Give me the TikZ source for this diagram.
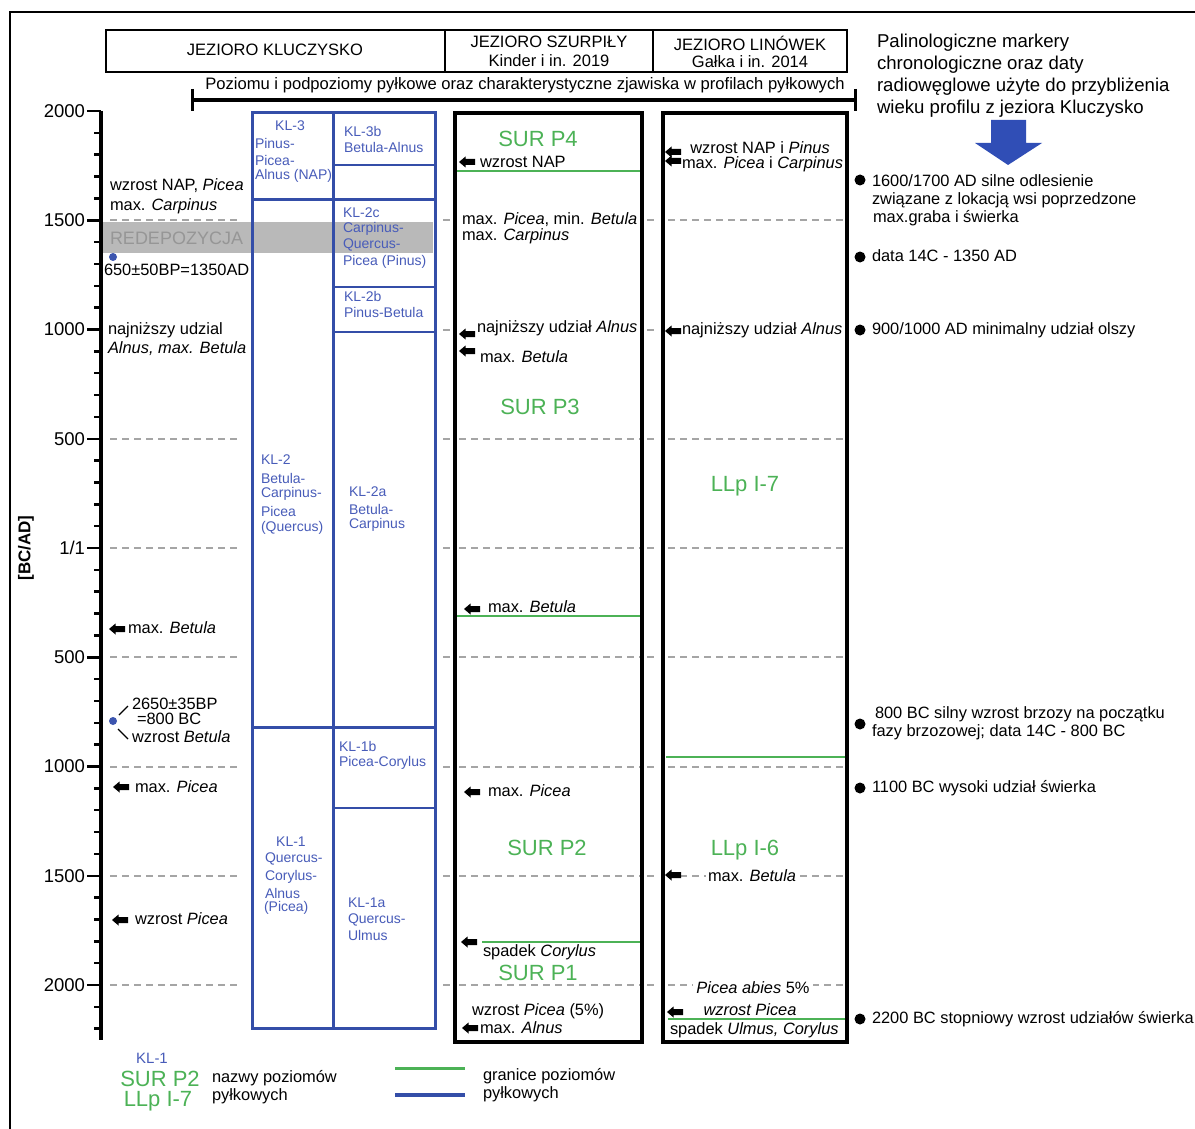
\documentclass[tikz,border=0pt]{standalone}
\usepackage{fontspec}
\setmainfont{Liberation Sans}
\usetikzlibrary{calc}
\definecolor{klblue}{RGB}{52,78,168}
\definecolor{kltext}{RGB}{72,92,185}
\definecolor{grn}{RGB}{76,178,86}
\definecolor{dgray}{RGB}{165,165,165}
\definecolor{bgray}{RGB}{185,185,185}
\definecolor{rgray}{RGB}{150,150,150}
\definecolor{arrblue}{RGB}{48,78,182}
\definecolor{dotblue}{RGB}{60,85,175}
\newcommand\fHdr{\fontsize{16.5}{19}\selectfont}
\newcommand\fSub{\fontsize{16.6}{19}\selectfont}
\newcommand\fRh{\fontsize{18.6}{22}\selectfont}
\newcommand\fAx{\fontsize{18.5}{22}\selectfont}
\newcommand\fAnn{\fontsize{16.4}{19}\selectfont}
\newcommand\fKl{\fontsize{14}{16}\selectfont}
\newcommand\fGrn{\fontsize{22}{26}\selectfont}
\begin{document}
\begin{tikzpicture}[x=1pt,y=-1pt,
  every node/.style={inner sep=0pt, outer sep=0pt},
  hdr/.style={font=\fHdr},
  ann/.style={font=\fAnn, anchor=west},
  kl/.style={font=\fKl, text=kltext, anchor=west},
  klc/.style={font=\fKl, text=kltext},
  grnlab/.style={font=\fGrn, text=grn},
  axlab/.style={font=\fAx, anchor=east},
  dsh/.style={draw=dgray, line width=2pt, dash pattern=on 7pt off 5pt},
  colbox/.style={draw=black, line width=3.5pt},
  klthick/.style={draw=klblue, line width=3pt},
  klthin/.style={draw=klblue, line width=1.3pt},
  grnline/.style={draw=grn, line width=2.5pt},
  bdot/.style={circle, fill=dotblue, minimum size=8pt},
  kdot/.style={circle, fill=black, minimum size=11pt},
  larr/.pic={\fill[black] (0,0) -- (6.5,-5.5) -- (6.5,-3) -- (16,-3) -- (16,3) -- (6.5,3) -- (6.5,5.5) -- cycle;},
]
\useasboundingbox (0,0) rectangle (1195,1129);
\fill[white] (0,0) rectangle (1195,1129);
% outer frame
\draw[line width=1.8pt] (1200,12) -- (10,12) -- (10,1140);
% header boxes
\draw[line width=1.8pt] (106,30) rectangle (847,72);
\draw[line width=1.8pt] (445,30) -- (445,72);
\draw[line width=1.8pt] (653,30) -- (653,72);
\node[hdr] (h1) at (275,50) {JEZIORO KLUCZYSKO};
\node[hdr] (h2) at (549,42) {JEZIORO SZURPIŁY};
\node[hdr] (h2b) at (549,61) {Kinder i in. 2019};
\node[hdr] (h3) at (750,43) {JEZIORO LINÓWEK};
\node[hdr] (h3b) at (750,62) {Gałka i in. 2014};
\node[font=\fSub] (sub) at (525,85) {Poziomu i podpoziomy pyłkowe oraz charakterystyczne zjawiska w profilach pyłkowych};
\draw[line width=4.5pt] (192,100) -- (855,100);
\draw[line width=3pt] (192,89) -- (192,111);
\draw[line width=3pt] (855,89) -- (855,111);
% right header
\node[font=\fRh, anchor=west] (r1) at (877,43) {Palinologiczne markery};
\node[font=\fRh, anchor=west] (r2) at (877,65) {chronologiczne oraz daty};
\node[font=\fRh, anchor=west] (r3) at (877,87) {radiowęglowe użyte do przybliżenia};
\node[font=\fRh, anchor=west] (r4) at (877,109) {wieku profilu z jeziora Kluczysko};
\fill[arrblue] (991,120) -- (1026,120) -- (1026,143) -- (1042,143) -- (1008,165) -- (975,143) -- (991,143) -- cycle;
% dashed lines
\foreach \k in {5,15,20,25,30,35,40} {\draw[dsh] (110,111+21.85*\k) -- (241,111+21.85*\k);}
\foreach \k in {5,10,...,40} {\draw[dsh] (443,111+21.85*\k) -- (451,111+21.85*\k);
  \draw[dsh] (647,111+21.85*\k) -- (659,111+21.85*\k);}
\foreach \k in {15,20,...,40} {\draw[dsh] (459,111+21.85*\k) -- (640,111+21.85*\k);}
\foreach \k in {5,15,20,25,30,35,40} {\draw[dsh] (668,111+21.85*\k) -- (845,111+21.85*\k);}
% axis
\draw[line width=3.5pt] (101,111) -- (101,1040);
\foreach \k in {0,...,42} {\draw[line width=2.5pt] (94,111+21.85*\k) -- (101,111+21.85*\k);}
\foreach \k/\lab in {0/2000,5/1500,10/1000,15/500,20/1\slash 1,25/500,30/1000,35/1500,40/2000} {
  \draw[line width=2.5pt] (87,111+21.85*\k) -- (101,111+21.85*\k);
  \node[axlab] (ax\k) at (85,111+21.85*\k) {\lab};}
\node[rotate=90, font=\bfseries\fontsize{17}{20}\selectfont] (bcad) at (26,548) {[BC/AD]};
% grey band
\fill[bgray] (103,222) rectangle (433,253);
\node[ann, text=rgray, font=\fontsize{18}{21}\selectfont] (red) at (110,238) {REDEPOZYCJA};
% left annotations
\node[ann] (a1) at (110,186) {wzrost NAP, \textit{Picea}};
\node[ann] (a2) at (110,206) {max. \textit{Carpinus}};
\node[bdot] (d1) at (113,257) {};
\node[ann] (a3) at (104,270) {650±50BP=1350AD};
\node[ann] (a4) at (108,330) {najniższy udzial};
\node[ann] (a5) at (108,349) {\textit{Alnus, max. Betula}};
\pic at (109,629) {larr};
\node[ann] (a6) at (128,628) {max. \textit{Betula}};
\node[bdot] (d2) at (113,721) {};
\draw[line width=1.4pt] ($(d2)+(6,-6)$) -- ($(d2)+(15,-15)$);
\draw[line width=1.4pt] ($(d2)+(5,8)$) -- ($(d2)+(15,18)$);
\node[ann] (a7) at (132,704) {2650±35BP};
\node[ann] (a8) at (137,719) {=800 BC};
\node[ann] (a9) at (132,737) {wzrost \textit{Betula}};
\pic at (113,787) {larr};
\node[ann] (a10) at (135,787) {max. \textit{Picea}};
\pic at (112,920) {larr};
\node[ann] (a11) at (135,919) {wzrost \textit{Picea}};
% KL column
\draw[klthick] (252,113) rectangle (435,1028);
\draw[klthick] (333,113) -- (333,1028);
\draw[klthick] (252,200) -- (435,200);
\draw[klthick] (252,727) -- (435,727);
\draw[klthin] (333,165) -- (435,165);
\draw[klthin] (333,287) -- (435,287);
\draw[klthin] (333,332) -- (435,332);
\draw[klthin] (333,808) -- (435,808);
\node[klc] (k3) at (290,126) {KL-3};
\node[kl] (k3a) at (255,143) {Pinus-};
\node[kl] (k3b) at (255,160) {Picea-};
\node[kl] (k3c) at (255,176) {Alnus (NAP)};
\node[kl] (k3b1) at (344,131) {KL-3b};
\node[kl] (k3b2) at (344,147) {Betula-Alnus};
\node[kl] (k2c1) at (343,213) {KL-2c};
\node[kl] (k2c2) at (343,229) {Carpinus-};
\node[kl] (k2c3) at (343,245) {Quercus-};
\node[kl] (k2c4) at (343,262) {Picea (Pinus)};
\node[kl] (k2b1) at (344,296) {KL-2b};
\node[kl] (k2b2) at (344,312) {Pinus-Betula};
\node[kl] (k2) at (261,460) {KL-2};
\node[kl] (k2x) at (261,478) {Betula-};
\node[kl] (k2y) at (261,494) {Carpinus-};
\node[kl] (k2z) at (261,511) {Picea};
\node[kl] (k2w) at (261,528) {(Quercus)};
\node[kl] (k2a1) at (349,492) {KL-2a};
\node[kl] (k2a2) at (349,509) {Betula-};
\node[kl] (k2a3) at (349,525) {Carpinus};
\node[kl] (k1b1) at (339,746) {KL-1b};
\node[kl] (k1b2) at (339,763) {Picea-Corylus};
\node[klc] (k1) at (291,842) {KL-1};
\node[kl] (k1x) at (265,859) {Quercus-};
\node[kl] (k1y) at (265,877) {Corylus-};
\node[kl] (k1z) at (265,893) {Alnus};
\node[kl] (k1w) at (264,908) {(Picea)};
\node[kl] (k1a1) at (348,903) {KL-1a};
\node[kl] (k1a2) at (348,920) {Quercus-};
\node[kl] (k1a3) at (348,935) {Ulmus};
% SUR column
\draw[colbox] (455,113) rectangle (642,1042);
\node[grnlab] (s4) at (538,139) {SUR P4};
\pic at (459,162) {larr};
\node[ann] (s4a) at (480,162) {wzrost NAP};
\draw[grnline] (457,171) -- (640,171);
\node[ann] (s4b) at (462,220) {max. \textit{Picea}, min. \textit{Betula}};
\node[ann] (s4c) at (462,236) {max. \textit{Carpinus}};
\pic at (459,334) {larr};
\pic at (459,351) {larr};
\node[ann] (s3a) at (477,328) {najniższy udział \textit{Alnus}};
\node[ann] (s3b) at (480,357) {max. \textit{Betula}};
\node[grnlab] (s3) at (540,407) {SUR P3};
\pic at (464,609) {larr};
\node[ann] (s3c) at (488,607) {max. \textit{Betula}};
\draw[grnline] (457,616) -- (640,616);
\pic at (464,792) {larr};
\node[ann] (s2a) at (488,791) {max. \textit{Picea}};
\node[grnlab] (s2) at (547,848) {SUR P2};
\pic at (461,942) {larr};
\draw[grnline] (482,942) -- (640,942);
\node[ann] (s2b) at (483,952) {spadek \textit{Corylus}};
\node[grnlab] (s1) at (538,973) {SUR P1};
\node[ann] (s1a) at (472,1011) {wzrost \textit{Picea} (5\%)};
\pic at (462,1028) {larr};
\node[ann] (s1b) at (480,1028) {max. \textit{Alnus}};
% LLp column
\draw[colbox] (663,113) rectangle (847,1042);
\pic at (665,152) {larr};
\pic at (665,161) {larr};
\node[font=\fAnn] (l1) at (760,148) {wzrost NAP i \textit{Pinus}};
\node[ann] (l2) at (682,164) {max. \textit{Picea} i \textit{Carpinus}};
\pic at (665,331) {larr};
\node[ann] (l3) at (682,330) {najniższy udział \textit{Alnus}};
\node[grnlab] (l7) at (745,486) {LLp I-7};
\draw[grnline] (666,757) -- (845,757);
\node[grnlab] (l6) at (745,850) {LLp I-6};
\pic at (665,875) {larr};
\node[ann, fill=white, inner xsep=2pt] (l4) at (706,876) {max. \textit{Betula}};
\node[font=\fAnn, fill=white, inner xsep=3pt] (l5) at (753,988) {\textit{Picea abies} 5\%};
\pic at (667,1012) {larr};
\node[font=\fAnn] (l6a) at (750,1010) {\textit{wzrost Picea}};
\draw[grnline] (668,1019) -- (845,1019);
\node[ann] (l6b) at (670,1030) {spadek \textit{Ulmus, Corylus}};
% right column
\node[kdot] (p1) at (860,180) {};
\node[ann] (t1) at (872,181) {1600/1700 AD silne odlesienie};
\node[ann] (t1b) at (872,200) {związane z lokacją wsi poprzedzone};
\node[ann] (t1c) at (873,218) {max.graba i świerka};
\node[kdot] (p2) at (860,257) {};
\node[ann] (t2) at (872,256) {data 14C - 1350 AD};
\node[kdot] (p3) at (860,330) {};
\node[ann] (t3) at (872,330) {900/1000 AD minimalny udział olszy};
\node[kdot] (p4) at (860,724) {};
\node[ann] (t4) at (875,714) {800 BC silny wzrost brzozy na początku};
\node[ann] (t4b) at (872,732) {fazy brzozowej; data 14C - 800 BC};
\node[kdot] (p5) at (860,788) {};
\node[ann] (t5) at (872,788) {1100 BC wysoki udział świerka};
\node[kdot] (p6) at (860,1019) {};
\node[ann] (t6) at (872,1019) {2200 BC stopniowy wzrost udziałów świerka};
% legend
\node[klc, font=\fontsize{15}{17}\selectfont] (g1) at (152,1058) {KL-1};
\node[grnlab] (g2) at (160,1079) {SUR P2};
\node[grnlab] (g3) at (158,1101) {LLp I-7};
\node[ann] (g4) at (212,1078) {nazwy poziomów};
\node[ann] (g5) at (212,1096) {pyłkowych};
\draw[grnline, line width=3pt] (395,1068) -- (465,1068);
\draw[klthick, line width=3.5pt] (395,1095) -- (465,1095);
\node[ann] (g6) at (483,1076) {granice poziomów};
\node[ann] (g7) at (483,1094) {pyłkowych};
\end{tikzpicture}
\end{document}
